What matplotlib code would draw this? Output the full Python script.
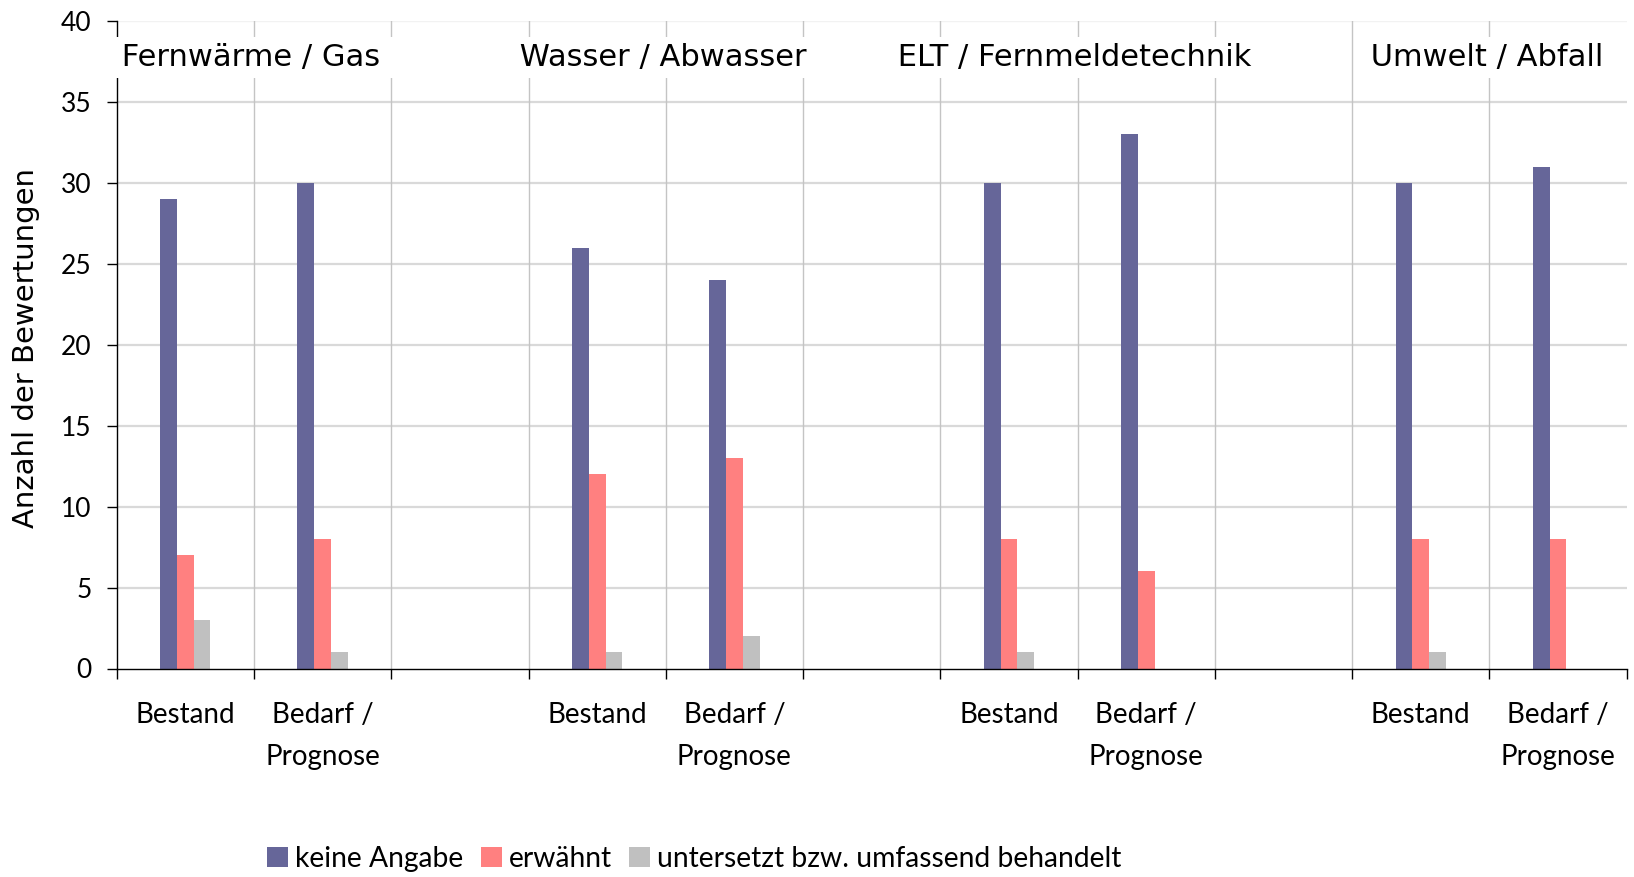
import matplotlib
matplotlib.use("Agg")
import matplotlib.pyplot as plt
import numpy as np

groups = ["Fernwärme / Gas", "Wasser / Abwasser", "ELT / Fernmeldetechnik", "Umwelt / Abfall"]
sub_labels = ["Bestand", "Bedarf /\nPrognose"]
series = ["keine Angabe", "erwähnt", "untersetzt bzw. umfassend behandelt"]
colors = ["#666699", "#FF8080", "#C0C0C0"]

# values per (group, sub) in order: FW Bestand, FW Bedarf, W Bestand, W Bedarf, ELT Bestand, ELT Bedarf, U Bestand, U Bedarf
keine_angabe = [29, 30, 26, 24, 30, 33, 30, 31]
erwaehnt = [7, 8, 12, 13, 8, 6, 8, 8]
untersetzt = [3, 1, 1, 2, 1, 0, 1, 0]
values = [keine_angabe, erwaehnt, untersetzt]

# slot layout: each group = 2 slots + 1 empty gap slot (last group without gap)
slot_pos = []
for g in range(len(groups)):
    for s in range(2):
        slot_pos.append(g * 3 + s + 0.5)
slot_pos = np.array(slot_pos)
n_slots = 11

fig = plt.figure(figsize=(16.34, 8.77), dpi=100)
ax = fig.add_axes([116.7 / 1634, 1 - 668.5 / 877, (1626.7 - 116.7) / 1634, (668.5 - 21) / 877])

bw = 0.122
for i, (vals, col, name) in enumerate(zip(values, colors, series)):
    ax.bar(slot_pos + (i - 1) * bw, vals, width=bw, color=col, label=name, zorder=3, linewidth=0)

ax.set_xlim(0, n_slots)
ax.set_ylim(0, 40)

# grid lines
for y in range(5, 40, 5):
    ax.axhline(y, color="#d9d9d9", lw=1.6, zorder=1)
ax.axhline(40, color="#f2f2f2", lw=1.0, zorder=1)
for x in range(1, n_slots):
    ax.axvline(x, color="#c4c4c4", lw=1.0, zorder=1)

for s in ["top", "right"]:
    ax.spines[s].set_visible(False)
for s in ["left", "bottom"]:
    ax.spines[s].set_color("black")
    ax.spines[s].set_linewidth(1.0)
    ax.spines[s].set_zorder(4)

tick_font = "Lato"
ax.set_yticks(range(0, 41, 5))
ax.set_yticklabels([str(v) for v in range(0, 41, 5)], fontfamily=tick_font, fontsize=19)
ax.tick_params(axis="y", direction="out", length=7, width=1, pad=11)

ax.set_xticks(range(0, n_slots + 1))
ax.set_xticklabels([])
ax.tick_params(axis="x", which="major", direction="out", length=7, width=1)
ax.set_xticks(slot_pos, minor=True)
ax.set_xticklabels(sub_labels * len(groups), minor=True, fontfamily=tick_font, fontsize=20, linespacing=1.75)
ax.tick_params(axis="x", which="minor", length=0, pad=24)

ax.set_ylabel("Anzahl der Bewertungen", fontfamily="DejaVu Sans", fontsize=21)
ax.yaxis.set_label_coords(-0.0505, 0.495)

for g, name in enumerate(groups):
    cx = g * 3 + 1.0 - 0.02
    ax.text(cx, 37.75, " " + name + " ", ha="center", va="center", fontfamily="DejaVu Sans", fontsize=22,
            zorder=6, clip_on=False,
            bbox=dict(boxstyle="square,pad=0.2", facecolor="white", edgecolor="none"))

leg = fig.legend(loc="center left", bbox_to_anchor=(256 / 1634, 1 - 859 / 877), ncol=3, frameon=False,
                 prop={"family": tick_font, "size": 20.3}, handlelength=0.75, handleheight=0.75,
                 handletextpad=0.25, columnspacing=0.6, borderaxespad=0)

fig.savefig("out.png", dpi=100, facecolor="white")
